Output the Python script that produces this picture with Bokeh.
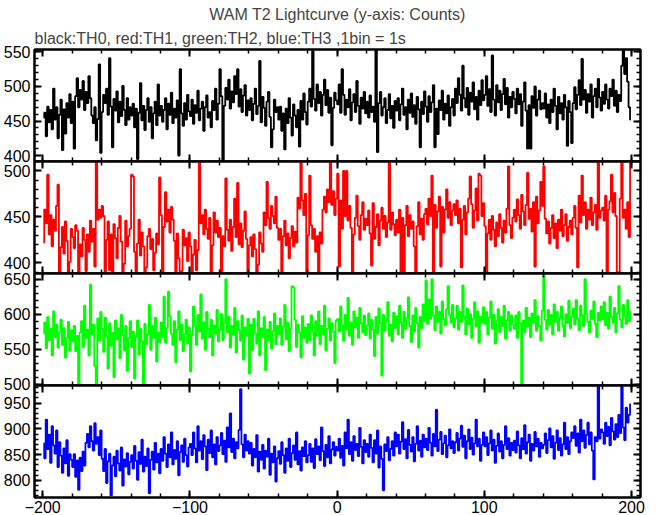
from bokeh.plotting import figure
from bokeh.layouts import column
from bokeh.models import FixedTicker, LinearAxis, Range1d, Title, ColumnDataSource
from bokeh.embed import file_html
from bokeh.resources import INLINE

# ---------------- data (counts per 1 s bin) ----------------
t_start = -200
bin_size = 1

th0 = [
    455, 462, 428, 471, 448, 466, 438, 497, 452, 470, 425, 459, 481, 408, 467, 432, 476, 455, 489, 447,
    478, 410, 486, 512, 470, 495, 481, 508, 466, 492, 476, 515, 483, 458, 447, 470, 422, 453, 532, 404,
    463, 488, 476, 497, 459, 541, 471, 412, 482, 465, 493, 448, 478, 457, 501, 466, 444, 483, 452, 470,
    458, 475, 441, 468, 395, 462, 505, 451, 472, 437, 466, 483, 449, 470, 425, 461, 478, 444, 503, 458,
    472, 449, 466, 483, 438, 475, 459, 491, 447, 468, 455, 480, 400, 525, 461, 443, 476, 452, 488, 464,
    457, 481, 446, 473, 462, 494, 451, 468, 478, 436, 470, 487, 455, 463, 441, 479, 466, 497, 452, 475,
    525, 486, 392, 472, 498, 481, 510, 468, 493, 477, 515, 489, 525, 471, 496, 463, 487, 502, 458, 480,
    466, 483, 451, 475, 497, 460, 472, 537, 448, 485, 469, 443, 478, 492, 456, 412, 438, 481, 463, 470,
    452, 471, 436, 461, 409, 468, 447, 483, 455, 429, 474, 458, 441, 466, 413, 479, 452, 490, 463, 445,
    478, 497, 471, 551, 482, 465, 503, 476, 492, 458, 488, 510, 473, 495, 462, 484, 415, 469, 491, 480,
    474, 503, 462, 525, 488, 459, 481, 470, 496, 451, 477, 489, 463, 508, 472, 446, 484, 468, 492, 461,
    478, 455, 487, 463, 471, 449, 553, 405, 476, 492, 458, 470, 483, 447, 466, 489, 454, 472, 440, 479,
    465, 483, 451, 474, 497, 459, 470, 438, 481, 462, 490, 456, 473, 446, 485, 467, 412, 478, 460, 493,
    471, 449, 486, 463, 477, 502, 412, 468, 431, 480, 466, 494, 452, 475, 461, 487, 443, 470, 482, 458,
    497, 476, 512, 488, 465, 530, 483, 470, 498, 459, 491, 478, 506, 467, 485, 452, 494, 473, 509, 480,
    488, 515, 472, 496, 463, 545, 481, 458, 502, 477, 494, 466, 489, 511, 474, 498, 455, 485, 470, 492,
    482, 461, 497, 474, 489, 443, 478, 506, 465, 410, 473, 410, 486, 469, 500, 458, 481, 494, 467, 476,
    468, 490, 455, 474, 447, 481, 463, 497, 472, 438, 485, 461, 476, 452, 488, 470, 414, 479, 463, 418,
    476, 499, 467, 488, 509, 473, 540, 481, 495, 462, 489, 478, 503, 455, 486, 497, 470, 511, 484, 465,
    492, 475, 503, 481, 468, 497, 486, 510, 472, 494, 463, 488, 479, 530, 553, 518, 541, 507, 470, 452,
]

th1 = [
    422, 458, 443, 496, 431, 452, 418, 447, 435, 462, 485, 389, 417, 439, 410, 445, 424, 390, 401, 437,
    428, 416, 441, 435, 389, 420, 407, 438, 425, 391, 431, 412, 446, 423, 437, 396, 510, 447, 458, 449,
    462, 451, 389, 425, 445, 392, 431, 390, 442, 427, 405, 438, 451, 423, 389, 399, 446, 418, 429, 437,
    496, 494, 412, 390, 421, 447, 408, 433, 418, 389, 395, 429, 437, 415, 426, 392, 411, 432, 420, 493,
    452, 389, 439, 477, 445, 458, 433, 461, 447, 424, 390, 432, 405, 389, 391, 436, 419, 427, 402, 433,
    418, 390, 409, 425, 392, 414, 510, 443, 452, 431, 458, 437, 426, 449, 389, 419, 455, 433, 446, 428,
    438, 390, 429, 418, 492, 436, 424, 447, 413, 439, 470, 428, 487, 420, 443, 417, 435, 456, 426, 389,
    419, 428, 407, 431, 415, 390, 398, 433, 421, 412, 455, 441, 488, 449, 437, 462, 451, 443, 472, 438,
    425, 437, 389, 429, 446, 419, 432, 405, 427, 440, 418, 434, 422, 471, 459, 510, 468, 452, 475, 390,
    430, 495, 441, 426, 437, 412, 429, 389, 433, 421, 458, 472, 455, 480, 466, 510, 463, 478, 452, 470,
    497, 396, 468, 437, 500, 451, 500, 446, 462, 438, 389, 431, 449, 473, 440, 425, 452, 466, 436, 448,
    441, 457, 432, 397, 465, 426, 439, 453, 419, 446, 460, 437, 451, 428, 444, 510, 436, 455, 442, 430,
    447, 433, 458, 390, 449, 390, 441, 462, 429, 452, 437, 445, 418, 389, 440, 466, 431, 448, 425, 453,
    459, 442, 470, 451, 495, 390, 463, 438, 456, 472, 396, 461, 433, 458, 480, 449, 466, 441, 457, 464,
    452, 468, 443, 459, 395, 447, 462, 431, 455, 470, 494, 464, 438, 457, 481, 446, 497, 495, 451, 465,
    440, 389, 432, 447, 425, 451, 436, 418, 444, 429, 453, 438, 422, 446, 433, 459, 505, 441, 427, 449,
    458, 445, 469, 452, 437, 474, 456, 441, 463, 498, 448, 459, 434, 466, 396, 472, 443, 457, 488, 462,
    505, 448, 432, 445, 421, 438, 452, 427, 443, 416, 447, 435, 458, 429, 441, 453, 424, 439, 446, 431,
    449, 462, 438, 395, 473, 444, 495, 452, 466, 437, 458, 447, 471, 441, 455, 463, 436, 510, 449, 457,
    460, 446, 473, 389, 458, 467, 496, 455, 476, 451, 390, 390, 470, 510, 449, 458, 437, 466, 428, 510,
]

th2 = [
    572, 588, 551, 596, 563, 579, 541, 604, 567, 585, 552, 574, 592, 556, 580, 538, 566, 589, 548, 577,
    561, 583, 547, 569, 498, 574, 590, 553, 612, 566, 578, 541, 642, 571, 585, 526, 498, 594, 562, 603,
    579, 546, 595, 568, 522, 587, 555, 573, 510, 591, 564, 580, 537, 599, 570, 548, 583, 519, 566, 590,
    553, 575, 508, 568, 591, 542, 579, 561, 500, 586, 557, 571, 613, 549, 583, 566, 595, 532, 574, 560,
    588, 567, 625, 559, 580, 632, 597, 572, 556, 590, 531, 578, 604, 563, 585, 547, 571, 592, 558, 581,
    518, 570, 611, 583, 556, 599, 575, 628, 565, 588, 549, 603, 579, 567, 592, 541, 584, 572, 606, 561,
    578, 600, 563, 587, 650, 574, 596, 552, 583, 571, 609, 545, 590, 577, 562, 598, 535, 581, 569, 593,
    515, 585, 549, 593, 572, 558, 604, 541, 580, 567, 596, 520, 578, 563, 589, 551, 576, 601, 557, 583,
    571, 594, 556, 582, 613, 564, 588, 547, 579, 640, 638, 592, 553, 585, 574, 538, 597, 566, 581, 559,
    586, 563, 598, 575, 541, 590, 569, 604, 557, 583, 571, 612, 548, 579, 594, 562, 587, 575, 530, 591,
    593, 575, 611, 584, 562, 599, 578, 623, 569, 588, 556, 604, 581, 595, 566, 609, 587, 574, 598, 570,
    584, 601, 565, 592, 578, 540, 596, 572, 608, 587, 512, 599, 576, 590, 617, 569, 585, 561, 602, 580,
    597, 571, 612, 588, 566, 603, 579, 594, 624, 583, 560, 598, 575, 609, 587, 552, 596, 580, 614, 590,
    648, 586, 621, 594, 650, 598, 577, 611, 589, 603, 572, 618, 593, 584, 607, 640, 599, 588, 613, 581,
    594, 612, 578, 603, 589, 641, 597, 571, 608, 585, 600, 566, 593, 617, 582, 604, 559, 596, 588, 610,
    586, 603, 571, 595, 618, 579, 599, 558, 590, 607, 574, 596, 583, 612, 565, 591, 603, 576, 598, 585,
    579, 598, 566, 603, 587, 500, 591, 574, 609, 582, 595, 567, 601, 588, 620, 576, 597, 583, 562, 605,
    655, 592, 578, 606, 585, 599, 571, 614, 589, 603, 576, 594, 611, 583, 568, 600, 587, 619, 580, 596,
    608, 585, 620, 594, 577, 612, 598, 583, 650, 601, 589, 574, 605, 593, 618, 586, 567, 602, 591, 611,
    593, 617, 584, 602, 579, 625, 596, 588, 609, 574, 601, 640, 592, 581, 613, 597, 586, 620, 590, 604,
]

th3 = [
    872, 843, 918, 861, 889, 834, 905, 868, 852, 897, 826, 874, 848, 815, 862, 833, 878, 809, 851, 840,
    826, 851, 807, 839, 782, 844, 818, 856, 829, 873, 890, 864, 905, 876, 858, 911, 871, 884, 849, 897,
    842, 818, 861, 795, 837, 852, 771, 829, 846, 808, 858, 833, 819, 864, 790, 841, 827, 853, 812, 836,
    849, 823, 867, 838, 801, 855, 832, 879, 817, 846, 828, 862, 775, 840, 856, 821, 873, 835, 852, 814,
    861, 838, 884, 852, 826, 870, 845, 893, 831, 859, 842, 876, 810, 855, 868, 836, 881, 849, 827, 864,
    871, 849, 893, 862, 835, 905, 858, 876, 841, 888, 866, 820, 879, 853, 897, 845, 870, 831, 884, 857,
    868, 892, 851, 877, 836, 903, 864, 930, 855, 881, 843, 874, 862, 898, 977, 870, 845, 889, 858, 876,
    852, 873, 829, 861, 845, 888, 817, 856, 840, 869, 823, 858, 846, 881, 811, 852, 835, 866, 798, 843,
    857, 832, 874, 849, 815, 862, 838, 881, 826, 853, 868, 840, 893, 831, 857, 819, 864, 847, 876, 835,
    849, 871, 836, 862, 824, 880, 851, 866, 839, 903, 857, 828, 869, 845, 886, 833, 860, 874, 848, 865,
    858, 881, 844, 867, 829, 893, 862, 918, 851, 874, 838, 886, 859, 871, 847, 902, 865, 833, 878, 855,
    871, 846, 889, 863, 835, 878, 852, 897, 825, 866, 842, 781, 870, 857, 884, 839, 861, 876, 848, 893,
    866, 889, 852, 875, 913, 861, 880, 843, 898, 869, 856, 884, 837, 871, 905, 858, 877, 846, 889, 864,
    881, 859, 902, 873, 848, 890, 866, 937, 857, 879, 894, 851, 872, 887, 845, 868, 899, 862, 876, 853,
    874, 892, 858, 881, 906, 865, 887, 843, 876, 899, 861, 883, 850, 872, 918, 866, 881, 838, 869, 893,
    866, 884, 849, 872, 897, 858, 879, 834, 867, 891, 856, 876, 843, 869, 905, 861, 882, 848, 873, 859,
    877, 854, 895, 868, 843, 882, 861, 907, 852, 874, 889, 838, 871, 858, 894, 866, 881, 846, 873, 862,
    869, 891, 853, 878, 901, 864, 886, 842, 873, 897, 859, 882, 848, 870, 912, 861, 884, 851, 876, 893,
    882, 905, 867, 891, 854, 918, 876, 897, 863, 888, 912, 870, 893, 858, 802, 884, 876, 984, 881, 899,
    893, 871, 912, 886, 904, 868, 921, 895, 879, 909, 884, 927, 892, 984, 903, 878, 941, 912, 927, 948,
]

series_colors = ["black", "red", "#00ff00", "blue"]
y_limits = [(391.5, 553.5), (388.4, 510.3), (498.0, 658.0), (767.0, 984.0)]
y_major = [[400, 450, 500, 550], [400, 450, 500], [500, 550, 600, 650], [800, 850, 900, 950]]
x_limits = (-205.6, 206.1)
x_major = [-200, -100, 0, 100, 200]
x_labels = {-200: "\u2212200", -100: "\u2212100", 0: "0", 100: "100", 200: "200"}

title_main = "WAM T2 Lightcurve (y-axis: Counts)"
title_sub = "black:TH0, red:TH1, green:TH2, blue:TH3 ,1bin = 1s"

FONT = "Liberation Sans"
FS = "16px"
PAD = 9          # transparent border above/below each inner frame (overlapped)


def minor_of(majors, step):
    lo, hi = majors[0] - 5 * step, majors[-1] + 5 * step
    out = []
    v = lo
    while v <= hi:
        out.append(v)
        v += step
    return out


def style_axis(ax, show_labels):
    ax.axis_line_width = 2
    ax.major_tick_in = 7
    ax.major_tick_out = 0
    ax.minor_tick_in = 4
    ax.minor_tick_out = 0
    ax.major_tick_line_width = 2
    ax.minor_tick_line_width = 1.5
    ax.major_label_text_font = FONT
    ax.major_label_text_font_size = FS
    ax.major_label_text_color = "black"
    if not show_labels:
        ax.major_label_overrides = {v: "" for v in ax.ticker.ticks}
        ax.major_label_standoff = 0


figs = []
data = [th0, th1, th2, th3]
n = len(th0)
x = [t_start + bin_size * (i + 0.5) for i in range(n)]

for k in range(4):
    first = k == 0
    last = k == 3
    p = figure(
        frame_width=606, frame_height=112,
        x_range=Range1d(*x_limits), y_range=Range1d(*y_limits[k]),
        output_backend="svg", toolbar_location=None,
        x_axis_location=None, y_axis_location=None,
        min_border_left=28, min_border_right=14,
        min_border_top=40 if first else PAD, min_border_bottom=19 if last else PAD,
        title=title_main if first else None,
    )
    if not first:
        p.margin = (-2 * PAD, 0, 0, 0)
    p.xgrid.visible = False
    p.ygrid.visible = False
    p.outline_line_color = "black"
    p.outline_line_width = 2
    p.background_fill_color = "white"
    p.border_fill_alpha = 0

    src = ColumnDataSource(dict(t=x, c=data[k]))
    p.step("t", "c", source=src, mode="center", line_color=series_colors[k], line_width=1.8)

    ymin = minor_of(y_major[k], 10)
    xmin = minor_of(x_major, 20)

    left = LinearAxis(ticker=FixedTicker(ticks=y_major[k], minor_ticks=ymin))
    style_axis(left, True)
    left.major_label_standoff = 4
    right = LinearAxis(ticker=FixedTicker(ticks=y_major[k], minor_ticks=ymin))
    style_axis(right, False)
    below = LinearAxis(ticker=FixedTicker(ticks=x_major, minor_ticks=xmin))
    style_axis(below, last)
    if last:
        below.major_label_overrides = x_labels
        below.major_label_standoff = 3
    above = LinearAxis(ticker=FixedTicker(ticks=x_major, minor_ticks=xmin))
    style_axis(above, False)

    p.add_layout(left, "left")
    p.add_layout(right, "right")
    p.add_layout(below, "below")
    p.add_layout(above, "above")

    if first:
        p.title.align = "center"
        p.title.text_font = FONT
        p.title.text_font_size = FS
        p.title.text_font_style = "normal"
        p.title.standoff = 0
        try:
            p.title.padding = 3
        except Exception:
            pass
        p.add_layout(Title(text=title_sub, align="left", text_font=FONT, standoff=5,
                           text_font_size=FS, text_font_style="normal"), "above")
    figs.append(p)

layout = column(*figs, spacing=0)
open("out.html", "w").write(file_html(layout, INLINE))
